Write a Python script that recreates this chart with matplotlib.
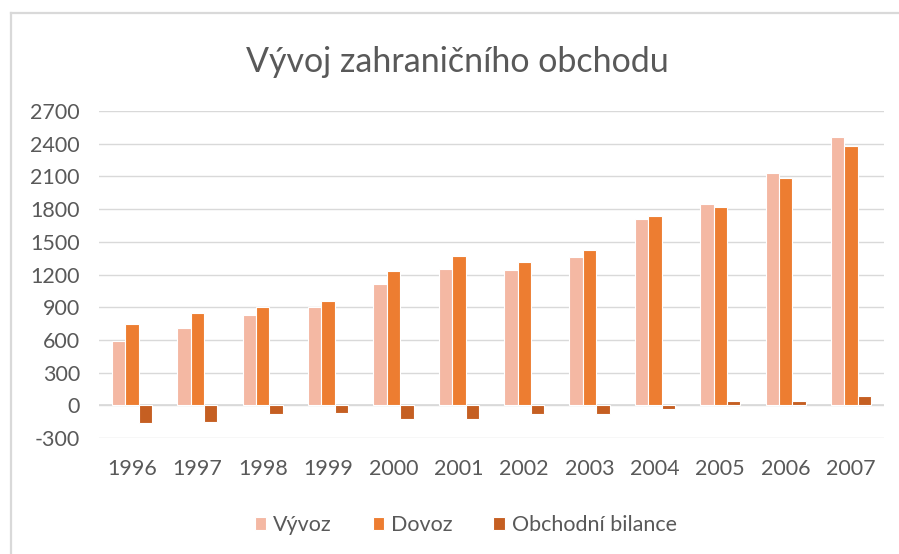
import numpy as np
import matplotlib.pyplot as plt
from matplotlib.lines import Line2D

# data
roky = ["1996", "1997", "1998", "1999", "2000", "2001",
        "2002", "2003", "2004", "2005", "2006", "2007"]
vyvoz = [590, 706, 824, 906, 1116, 1253, 1240, 1359, 1709, 1851, 2131, 2460]
dovoz = [742, 845, 906, 961, 1231, 1372, 1313, 1429, 1733, 1815, 2083, 2378]
bilance = [-160, -149, -78, -67, -124, -124, -78, -78, -33, 40, 40, 86]
y_ticks = [-300, 0, 300, 600, 900, 1200, 1500, 1800, 2100, 2400, 2700]

plt.rcParams['font.family'] = ['Lato', 'DejaVu Sans']

fig = plt.figure(figsize=(8.99, 5.54), dpi=100)
ax = fig.add_axes([0.1105, 0.2094, 0.8725, 0.5902])

# chart border (only top and left visible in the crop)
W, H = 899, 554
fig.lines.append(Line2D([11 / W, 1.0], [1 - 13 / H, 1 - 13 / H], transform=fig.transFigure,
                        color="#D9D9D9", linewidth=1.6))
fig.lines.append(Line2D([11 / W, 11 / W], [0, 1 - 13 / H], transform=fig.transFigure,
                        color="#D9D9D9", linewidth=1.6))

x = np.arange(len(roky))
w = 0.205
ax.bar(x - w, vyvoz, w, color="#F4B8A3", edgecolor="white", linewidth=0.8, label="Vývoz", zorder=3)
ax.bar(x, dovoz, w, color="#ED7D31", edgecolor="white", linewidth=0.8, label="Dovoz", zorder=3)
ax.bar(x + w, bilance, w, color="#C55F22", edgecolor="white", linewidth=0.8, label="Obchodní bilance", zorder=3)

ax.set_xlim(-0.5, len(roky) - 0.5)
ax.set_ylim(-300, 2700)
ax.set_yticks(y_ticks)
ax.set_yticklabels([str(v) for v in y_ticks])
ax.set_xticks(x)
ax.set_xticklabels(roky)
ax.yaxis.grid(True, color="#D9D9D9", linewidth=1, zorder=0)
ax.axhline(0, color="#D9D9D9", linewidth=1.2, zorder=1)
for s in ax.spines.values():
    s.set_visible(False)
ax.tick_params(axis='both', length=0, labelsize=15.5, labelcolor="#595959")
ax.tick_params(axis='y', pad=14)
ax.tick_params(axis='x', pad=15)

fig.text(0.509, 0.888, "Vývoj zahraničního obchodu", ha="center", va="center",
         fontsize=24.5, color="#595959")

ax.legend(loc="center", bbox_to_anchor=(0.467, -0.266), ncol=3, frameon=False,
          fontsize=15.5, labelcolor="#595959", handlelength=0.55, handleheight=0.55,
          handletextpad=0.3, columnspacing=1.9)

fig.savefig("out.png", dpi=100)
